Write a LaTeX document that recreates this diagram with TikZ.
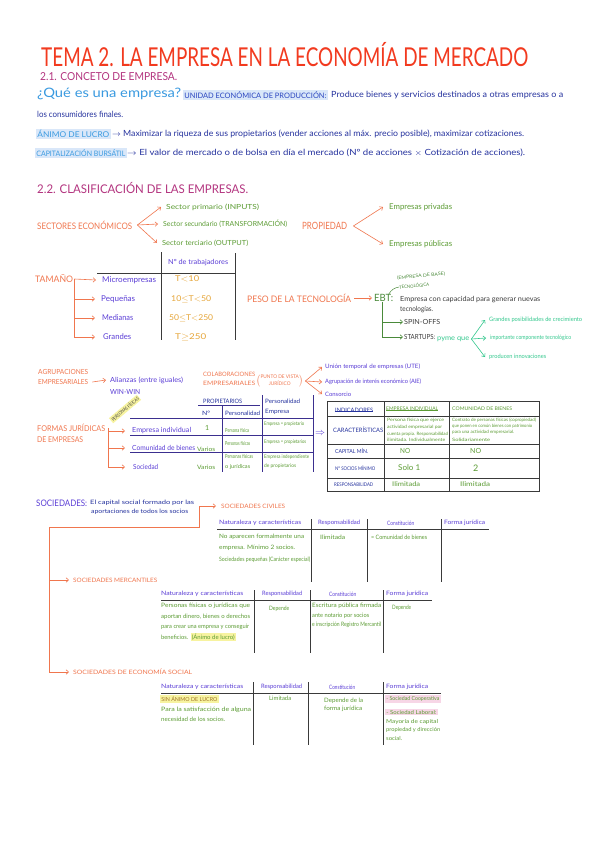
\documentclass[tikz,border=0pt]{standalone}
\usepackage{fontspec}
\setsansfont{Lato}
\usepackage{graphicx}
\usetikzlibrary{positioning,arrows.meta}
\definecolor{ntRed}{HTML}{F23A1F}
\definecolor{ntMagenta}{HTML}{B3347F}
\definecolor{ntCyan}{HTML}{3A9AE0}
\definecolor{ntBlue}{HTML}{2A45C0}
\definecolor{ntBlueL}{HTML}{D9E7F9}
\definecolor{ntNavy}{HTML}{25329E}
\definecolor{ntOrange}{HTML}{F0764E}
\definecolor{ntGreen}{HTML}{5C9C34}
\definecolor{ntViolet}{HTML}{5B3ED6}
\definecolor{ntAmber}{HTML}{E6A63A}
\definecolor{ntTeal}{HTML}{34C88E}
\definecolor{ntInk}{HTML}{3C3C3C}
\definecolor{ntEbt}{HTML}{4A8A3A}
\definecolor{ntRule}{HTML}{3A3A3A}
\definecolor{ntRuleV}{HTML}{3B2F8F}
\definecolor{ntYellowL}{HTML}{F7F3A0}
\definecolor{ntPinkL}{HTML}{F7D6E6}
\newcommand{\ntfit}[2]{\resizebox{#1pt}{\height}{#2}}
\tikzset{
  nt-txt/.style={anchor=west, inner sep=0pt, font=\sffamily\fontsize{7}{8}\selectfont},
  nt-fs/.style={font=\sffamily\fontsize{#1}{#1}\selectfont},
  nt-orange/.style={nt-txt, text=ntOrange},
  nt-green/.style={nt-txt, text=ntGreen},
  nt-violet/.style={nt-txt, text=ntViolet},
  nt-navy/.style={nt-txt, text=ntNavy},
  nt-ink/.style={nt-txt, text=ntInk},
  nt-teal/.style={nt-txt, text=ntTeal},
  nt-amber/.style={nt-txt, text=ntAmber},
  nt-hl/.style={fill=#1, inner sep=1.2pt},
  nt-flow/.style={-{Straight Barb[length=2.5pt,width=4.5pt]}, line width=0.6pt, draw=ntOrange},
  nt-line/.style={line width=0.6pt, draw=ntOrange},
  nt-rule/.style={line width=0.8pt, draw=ntRule}
}
\begin{document}
\begin{tikzpicture}[x=1pt, y=-1pt]
\fill[white] (0,0) rectangle (600,848);
\useasboundingbox (0,0) rectangle (600,848);

% titulo y 2.1
\node[nt-txt, text=ntRed, nt-fs=26] (title) at (41,55)
  {\ntfit{487}{TEMA 2. LA EMPRESA EN LA ECONOMÍA DE MERCADO}};
\node[nt-txt, text=ntMagenta, nt-fs=11] (s21) at (40,77)
  {\ntfit{137}{2.1. CONCETO DE EMPRESA.}};
\node[nt-txt, text=ntCyan, nt-fs=13] (quees) at (37,94)
  {\ntfit{144}{¿Qué es una empresa?}};
\node[nt-txt, text=ntBlue, nt-hl=ntBlueL, nt-fs=7.5] (ueco) at (183,95)
  {\ntfit{142}{UNIDAD ECONÓMICA DE PRODUCCIÓN:}};
\node[nt-navy, nt-fs=8.5] (def1) at (331,95)
  {\ntfit{232}{Produce bienes y servicios destinados a otras empresas o a}};
\node[nt-navy, nt-fs=8.5] (def2) at (37,114)
  {\ntfit{86}{los consumidores finales.}};
\node[nt-txt, text=ntCyan, nt-hl=ntBlueL, nt-fs=8] (lucro) at (36,134)
  {\ntfit{72}{ÁNIMO DE LUCRO}};
\node[nt-navy, nt-fs=8.5] (lucrot) at (112,134)
  {\ntfit{412}{$\rightarrow$ Maximizar la riqueza de sus propietarios (vender acciones al máx. precio posible), maximizar cotizaciones.}};
\node[nt-txt, text=ntCyan, nt-hl=ntBlueL, nt-fs=7.5] (capb) at (35,153)
  {\ntfit{89}{CAPITALIZACIÓN BURSÁTIL}};
\node[nt-navy, nt-fs=8.5] (capbt) at (127,153)
  {\ntfit{398}{$\rightarrow$ El valor de mercado o de bolsa en día el mercado (Nº de acciones $\times$ Cotización de acciones).}};

% 2.2 clasificacion
\node[nt-txt, text=ntMagenta, nt-fs=12] (s22) at (37,188)
  {\ntfit{211}{2.2. CLASIFICACIÓN DE LAS EMPRESAS.}};

\node[nt-orange, nt-fs=9] (sect) at (37,225) {\ntfit{95}{SECTORES ECONÓMICOS}};
\node[nt-green, nt-fs=7] (sprim) at (166,207) {\ntfit{93}{Sector primario (INPUTS)}};
\node[nt-green, nt-fs=7] (ssec) at (163,224) {\ntfit{124}{Sector secundario (TRANSFORMACIÓN)}};
\node[nt-green, nt-fs=7] (ster) at (162,243) {\ntfit{86}{Sector terciario (OUTPUT)}};
\coordinate (sectfork) at ([xshift=5pt]sect.east);
\draw[nt-flow] (sectfork) -- ([xshift=-5pt]sprim.west);
\draw[nt-flow] (sectfork) -- ([xshift=-5pt]ssec.west);
\draw[nt-flow] (sectfork) -- ([xshift=-5pt]ster.west);

\node[nt-orange, nt-fs=10] (prop) at (302,226) {\ntfit{45}{PROPIEDAD}};
\node[nt-green, nt-fs=8] (epriv) at (389,207) {\ntfit{63}{Empresas privadas}};
\node[nt-green, nt-fs=8] (epub) at (389,244) {\ntfit{63}{Empresas públicas}};
\draw[nt-flow] ([xshift=6pt]prop.east) -- ([xshift=-6pt]epriv.west);
\draw[nt-flow] ([xshift=6pt]prop.east) -- ([xshift=-6pt]epub.west);

% tamano
\draw[nt-rule] (161,252) -- (161,340);
\draw[nt-rule] (235,253) -- (235,340);
\draw[nt-rule] (97,273) -- (235,273);
\node[nt-violet, nt-fs=7] (ntrab) at (168,263) {\ntfit{60}{Nº de trabajadores}};
\node[nt-orange, nt-fs=9] (tam) at (35,279) {\ntfit{38}{TAMAÑO}};
\node[nt-violet, nt-fs=8] (micro) at (102,280) {\ntfit{54}{Microempresas}};
\node[nt-violet, nt-fs=8] (peq) at (101,299) {\ntfit{34}{Pequeñas}};
\node[nt-violet, nt-fs=8] (med) at (102,318) {\ntfit{31}{Medianas}};
\node[nt-violet, nt-fs=8] (gra) at (103,337) {\ntfit{28}{Grandes}};
\node[nt-amber, nt-fs=8] (v1) at (175,279) {\ntfit{24}{T$<$10}};
\node[nt-amber, nt-fs=8] (v2) at (171,299) {\ntfit{40}{10$\leq$T$<$50}};
\node[nt-amber, nt-fs=8] (v3) at (169,318) {\ntfit{44}{50$\leq$T$<$250}};
\node[nt-amber, nt-fs=8] (v4) at (175,337) {\ntfit{31}{T$\geq$250}};
\coordinate (tamfork) at ([xshift=1pt]tam.east);
\draw[nt-flow] (tamfork) -- ([xshift=-6pt]micro.west);
\draw[nt-flow] (tamfork) |- ([xshift=-6pt]peq.west);
\draw[nt-flow] (tamfork) |- ([xshift=-7pt]med.west);
\draw[nt-flow] (tamfork) |- ([xshift=-8pt]gra.west);

% peso de la tecnologia
\node[nt-orange, nt-fs=9] (peso) at (247,298) {\ntfit{104}{PESO DE LA TECNOLOGÍA}};
\node[nt-txt, text=ntEbt, nt-fs=10] (ebt) at (374,298) {\ntfit{19}{EBT:}};
\draw[nt-flow] ([xshift=3pt]peso.east) -- ([xshift=-2pt]ebt.west);
\node[nt-txt, text=ntEbt, nt-fs=4.5, rotate=5] (ebtn1) at (397,278)
  {\ntfit{48}{(EMPRESA DE BASE)}};
\node[nt-txt, text=ntEbt, nt-fs=4.5, rotate=5] (ebtn2) at (399,287)
  {\ntfit{30}{TECNOLÓGICA}};
\draw[ntEbt, line width=0.5pt] ([xshift=5pt]ebt.north) to[bend left=25] (ebtn2.west);
\node[nt-ink, nt-fs=7] (ebtd1) at (400,300) {\ntfit{140}{Empresa con capacidad para generar nuevas}};
\node[nt-ink, nt-fs=7] (ebtd2) at (400,310) {\ntfit{33}{tecnologías.}};
\node[nt-ink, nt-fs=7] (spin) at (404,322) {\ntfit{36}{SPIN-OFFS}};
\node[nt-ink, nt-fs=7] (start) at (404,337) {\ntfit{31}{STARTUPS:}};
\node[nt-teal, nt-fs=7] (pyme) at (437,339) {\ntfit{32}{pyme que}};
\draw[nt-flow, draw=ntEbt] ([xshift=-1pt]ebt.south) |- ([xshift=-1pt]spin.west);
\draw[nt-flow, draw=ntEbt] ([xshift=-1pt]ebt.south) |- ([xshift=-1pt]start.west);
\node[nt-teal, nt-fs=6] (st1) at (489,320) {\ntfit{93}{Grandes posibilidades de crecimiento}};
\node[nt-teal, nt-fs=6] (st2) at (490,338) {\ntfit{81}{importante componente tecnológico}};
\node[nt-teal, nt-fs=6] (st3) at (489,357) {\ntfit{57}{producen innovaciones}};
\coordinate (pymefork) at ([xshift=2pt]pyme.east);
\draw[nt-flow, draw=ntTeal] (pymefork) -- ([xshift=-4pt]st1.west);
\draw[nt-flow, draw=ntTeal] (pymefork) -- ([xshift=-4pt]st2.west);
\draw[nt-flow, draw=ntTeal] (pymefork) -- ([xshift=-4pt]st3.west);

% agrupaciones y colaboraciones
\node[nt-orange, nt-fs=7] (agr1) at (38,372) {\ntfit{50}{AGRUPACIONES}};
\node[nt-orange, nt-fs=7] (agr2) at (38,382) {\ntfit{50}{EMPRESARIALES}};
\node[nt-violet, nt-fs=7] (ali) at (110,380) {\ntfit{73}{Alianzas (entre iguales)}};
\node[nt-violet, nt-fs=7] (win) at (110,392) {\ntfit{30}{WIN-WIN}};
\draw[nt-flow] ([xshift=4pt]agr2.east) -- ([xshift=-4pt]ali.west);

\node[nt-orange, nt-fs=6] (col1) at (203,374) {\ntfit{52}{COLABORACIONES}};
\node[nt-orange, nt-fs=6] (col2) at (203,383) {\ntfit{52}{EMPRESARIALES}};
\node[nt-orange, nt-fs=5] (pvj) at (256,381)
  {\ntfit{47}{$\left(\vcenter{\hbox{\begin{tabular}{@{}c@{}}PUNTO DE VISTA\\JURÍDICO\end{tabular}}}\right)$}};
\node[nt-violet, nt-fs=6] (ute) at (325,367) {\ntfit{95}{Unión temporal de empresas (UTE)}};
\node[nt-violet, nt-fs=6] (aie) at (325,382) {\ntfit{96}{Agrupación de interés económico (AIE)}};
\node[nt-violet, nt-fs=6] (cons) at (325,394) {\ntfit{26}{Consorcio}};
\coordinate (colfork) at ([xshift=2pt]pvj.east);
\draw[nt-flow] (colfork) -- ([xshift=-3pt]ute.west);
\draw[nt-flow] (colfork) -- ([xshift=-3pt]aie.west);
\draw[nt-flow] (colfork) -- ([xshift=-3pt]cons.west);

% formas juridicas
\node[nt-orange, nt-fs=8] (fj1) at (37,428) {\ntfit{68}{FORMAS JURÍDICAS}};
\node[nt-orange, nt-fs=8] (fj2) at (37,440) {\ntfit{46}{DE EMPRESAS}};
\node[nt-ink, nt-fs=4.5, nt-hl=ntYellowL, anchor=center, rotate=40] (pfis) at (125,409)
  {\ntfit{34}{PERSONAS FÍSICAS}};
\node[nt-violet, nt-fs=7] (ei) at (132,431) {\ntfit{59}{Empresa individual}};
\node[nt-violet, nt-fs=7] (cb) at (132,448) {\ntfit{63}{Comunidad de bienes}};
\node[nt-violet, nt-fs=7] (soc) at (133,467) {\ntfit{25}{Sociedad}};
\coordinate (fjfork) at ([xshift=3pt]fj1.east);
\draw[nt-flow] (fjfork) |- ([xshift=-7pt]ei.west);
\draw[nt-flow] (fjfork) |- ([xshift=-7pt]cb.west);
\draw[nt-flow] (fjfork) |- ([xshift=-8pt]soc.west);

\draw[nt-rule, draw=ntRuleV] (198,405) -- (260,405);
\draw[nt-rule, draw=ntRuleV] (130,418) -- (313,418);
\draw[nt-rule, draw=ntRuleV] (130,435) -- (313,435);
\draw[nt-rule, draw=ntRuleV] (130,452) -- (313,452);
\draw[nt-rule, draw=ntRuleV] (222,406) -- (222,472);
\draw[nt-rule, draw=ntRuleV] (262,395) -- (262,472);
\draw[nt-rule, draw=ntRuleV] (313,395) -- (313,472);
\node[nt-navy, nt-fs=6] (fprop) at (203,401) {\ntfit{39}{PROPIETARIOS}};
\node[nt-navy, nt-fs=6] (fnum) at (202,413) {\ntfit{8}{Nº}};
\node[nt-navy, nt-fs=6] (fpers) at (225,413) {\ntfit{35}{Personalidad}};
\node[nt-navy, nt-fs=6] (fpe1) at (265,401) {\ntfit{35}{Personalidad}};
\node[nt-navy, nt-fs=6] (fpe2) at (265,412) {\ntfit{24}{Empresa}};
\node[nt-green, nt-fs=7] (r1a) at (205,428) {1};
\node[nt-green, nt-fs=5.5] (r1b) at (225,431) {\ntfit{24}{Persona física}};
\node[nt-green, nt-fs=5] (r1c) at (264,424) {\ntfit{40}{Empresa = propietario}};
\node[nt-green, nt-fs=6] (r2a) at (197,449) {\ntfit{18}{Varios}};
\node[nt-green, nt-fs=5.5] (r2b) at (225,444) {\ntfit{25}{Personas físicas}};
\node[nt-green, nt-fs=5] (r2c) at (264,442) {\ntfit{42}{Empresa = propietarios}};
\node[nt-green, nt-fs=6] (r3a) at (197,467) {\ntfit{18}{Varios}};
\node[nt-green, nt-fs=5.5] (r3b) at (225,457) {\ntfit{28}{Personas físicas}};
\node[nt-green, nt-fs=5.5] (r3b2) at (225,467) {\ntfit{25}{o jurídicas}};
\node[nt-green, nt-fs=5] (r3c) at (264,457) {\ntfit{45}{Empresa independiente}};
\node[nt-green, nt-fs=5] (r3c2) at (264,466) {\ntfit{32}{de propietarios}};
\node[nt-violet, nt-fs=10] (impl) at (315,434) {$\Rightarrow$};

% indicadores
\draw[nt-rule] (327,401) rectangle (539,491);
\draw[nt-rule] (327,416) -- (539,416);
\draw[nt-rule] (327,444) -- (539,444);
\draw[nt-rule] (327,458) -- (539,458);
\draw[nt-rule] (327,478) -- (539,478);
\draw[nt-rule] (384,401) -- (384,491);
\draw[nt-rule] (449,401) -- (449,491);
\node[nt-navy, nt-fs=6] (ind) at (335,410) {\ntfit{38}{INDICADORES}};
\node[nt-green, nt-fs=5] (indEI) at (386,409) {\ntfit{52}{EMPRESA INDIVIDUAL}};
\node[nt-green, nt-fs=5] (indCB) at (452,409) {\ntfit{60}{COMUNIDAD DE BIENES}};
\draw[ntNavy, line width=0.4pt] ([yshift=1pt]ind.south west) -- ([yshift=1pt]ind.south east);
\draw[ntGreen, line width=0.4pt] ([yshift=1pt]indEI.south west) -- ([yshift=1pt]indEI.south east);
\node[nt-navy, nt-fs=6] (car) at (333,430) {\ntfit{50}{CARACTERÍSTICAS}};
\node[nt-green, nt-fs=4.5] (ce1) at (387,420) {\ntfit{57}{Persona física que ejerce}};
\node[nt-green, nt-fs=4.5] (ce2) at (387,427) {\ntfit{55}{actividad empresarial por}};
\node[nt-green, nt-fs=4.5] (ce3) at (387,434) {\ntfit{61}{cuenta propia. Responsabilidad}};
\node[nt-green, nt-fs=4.5] (ce4) at (387,440) {\ntfit{58}{ilimitada. Individualmente}};
\node[nt-green, nt-fs=4.5] (cc1) at (452,420) {\ntfit{84}{Contrato de personas físicas (copropiedad)}};
\node[nt-green, nt-fs=4.5] (cc2) at (452,426) {\ntfit{80}{que ponen en común bienes con patrimonio}};
\node[nt-green, nt-fs=4.5] (cc3) at (452,432) {\ntfit{62}{para una actividad empresarial.}};
\node[nt-green, nt-fs=4.5] (cc4) at (452,440) {\ntfit{38}{Solidariamente}};
\node[nt-navy, nt-fs=5.5] (capm) at (335,451) {\ntfit{33}{CAPITAL MÍN.}};
\node[nt-green, nt-fs=7] (capEI) at (400,451) {\ntfit{10}{NO}};
\node[nt-green, nt-fs=7] (capCB) at (470,451) {\ntfit{11}{NO}};
\node[nt-navy, nt-fs=5] (nsoc) at (335,468) {\ntfit{40}{Nº SOCIOS MÍNIMO}};
\node[nt-green, nt-fs=8] (nsEI) at (398,468) {\ntfit{22}{Solo 1}};
\node[nt-green, nt-fs=9] (nsCB) at (473,468) {2};
\node[nt-navy, nt-fs=5] (resp) at (334,485) {\ntfit{39}{RESPONSABILIDAD}};
\node[nt-green, nt-fs=6.5] (rsEI) at (392,484) {\ntfit{28}{Ilimitada}};
\node[nt-green, nt-fs=6.5] (rsCB) at (460,484) {\ntfit{30}{Ilimitada}};

% sociedades
\node[nt-violet, nt-fs=9] (socs) at (36,503) {\ntfit{51}{SOCIEDADES:}};
\node[nt-navy, nt-fs=6] (socs1) at (90,503) {\ntfit{104}{El capital social formado por las}};
\node[nt-navy, nt-fs=6] (socs2) at (91,512) {\ntfit{97}{aportaciones de todos los socios}};
\node[nt-orange, nt-fs=6] (civ) at (221,506) {\ntfit{64}{SOCIEDADES CIVILES}};
\node[nt-orange, nt-fs=6] (merc) at (73,580) {\ntfit{84}{SOCIEDADES MERCANTILES}};
\node[nt-orange, nt-fs=6] (ecos) at (73,672) {\ntfit{119}{SOCIEDADES DE ECONOMÍA SOCIAL}};
\coordinate (socroot) at (49,527);
\draw[nt-flow] (socroot) -| ([xshift=-22pt]civ.west) -- ([xshift=-5pt]civ.west);
\draw[nt-flow] (socroot) |- ([xshift=-4pt]merc.west);
\draw[nt-flow] (socroot) |- ([xshift=-4pt]ecos.west);

% sociedades civiles
\draw[nt-rule] (217,529) -- (489,529);
\draw[nt-rule] (311,519) -- (311,582);
\draw[nt-rule] (367,519) -- (367,582);
\draw[nt-rule] (441,519) -- (441,582);
\node[nt-violet, nt-fs=6] (cvh1) at (219,523) {\ntfit{82}{Naturaleza y características}};
\node[nt-violet, nt-fs=6] (cvh2) at (318,523) {\ntfit{42}{Responsabilidad}};
\node[nt-violet, nt-fs=6] (cvh3) at (387,523) {\ntfit{27}{Constitución}};
\node[nt-violet, nt-fs=6] (cvh4) at (444,523) {\ntfit{41}{Forma jurídica}};
\node[nt-green, nt-fs=6] (cv1) at (219,537) {\ntfit{85}{No aparecen formalmente una}};
\node[nt-green, nt-fs=6] (cv2) at (219,548) {\ntfit{76}{empresa. Mínimo 2 socios.}};
\node[nt-green, nt-fs=6] (cv3) at (219,560) {\ntfit{91}{Sociedades pequeñas (Carácter especial)}};
\node[nt-green, nt-fs=6] (cvr) at (320,537) {\ntfit{25}{Ilimitada}};
\node[nt-green, nt-fs=6] (cvc) at (371,537) {\ntfit{56}{= Comunidad de bienes}};

% sociedades mercantiles
\draw[nt-rule] (161,600) -- (432,600);
\draw[nt-rule] (254,590) -- (254,653);
\draw[nt-rule] (310,590) -- (310,653);
\draw[nt-rule] (383,590) -- (383,653);
\node[nt-violet, nt-fs=6] (mh1) at (161,594) {\ntfit{82}{Naturaleza y características}};
\node[nt-violet, nt-fs=6] (mh2) at (262,594) {\ntfit{40}{Responsabilidad}};
\node[nt-violet, nt-fs=6] (mh3) at (329,594) {\ntfit{27}{Constitución}};
\node[nt-violet, nt-fs=6] (mh4) at (386,594) {\ntfit{42}{Forma jurídica}};
\node[nt-green, nt-fs=6] (m1) at (161,606) {\ntfit{89}{Personas físicas o jurídicas que}};
\node[nt-green, nt-fs=6] (m2) at (161,617) {\ntfit{89}{aportan dinero, bienes o derechos}};
\node[nt-green, nt-fs=6] (m3) at (161,627) {\ntfit{88}{para crear una empresa y conseguir}};
\node[nt-green, nt-fs=6] (m4) at (161,637) {\ntfit{27}{beneficios.}};
\node[nt-green, nt-fs=6, nt-hl=ntYellowL, right=2pt of m4] (m4hl) {\ntfit{43}{(Ánimo de lucro)}};
\node[nt-green, nt-fs=6] (mr) at (269,609) {\ntfit{20}{Depende}};
\node[nt-green, nt-fs=6] (mc1) at (312,606) {\ntfit{69}{Escritura pública firmada}};
\node[nt-green, nt-fs=6] (mc2) at (312,616) {\ntfit{57}{ante notario por socios}};
\node[nt-green, nt-fs=6] (mc3) at (312,625) {\ntfit{69}{e inscripción Registro Mercantil}};
\node[nt-green, nt-fs=6] (mf) at (392,608) {\ntfit{19}{Depende}};

% sociedades de economia social
\draw[nt-rule] (161,693) -- (441,693);
\draw[nt-rule] (253,682) -- (253,745);
\draw[nt-rule] (308,682) -- (308,745);
\draw[nt-rule] (383,682) -- (383,745);
\node[nt-violet, nt-fs=6] (eh1) at (161,687) {\ntfit{82}{Naturaleza y características}};
\node[nt-violet, nt-fs=6] (eh2) at (261,687) {\ntfit{41}{Responsabilidad}};
\node[nt-violet, nt-fs=6] (eh3) at (329,687) {\ntfit{26}{Constitución}};
\node[nt-violet, nt-fs=6] (eh4) at (386,687) {\ntfit{42}{Forma jurídica}};
\node[nt-txt, text=ntAmber!70!black, nt-fs=5.5, nt-hl=ntYellowL] (e0) at (160,699)
  {\ntfit{56}{SIN ÁNIMO DE LUCRO}};
\node[nt-green, nt-fs=6] (e1) at (161,710) {\ntfit{90}{Para la satisfacción de alguna}};
\node[nt-green, nt-fs=6] (e2) at (161,719) {\ntfit{64}{necesidad de los socios.}};
\node[nt-green, nt-fs=6] (er) at (269,698) {\ntfit{22}{Limitada}};
\node[nt-green, nt-fs=6] (ec1) at (324,701) {\ntfit{39}{Depende de la}};
\node[nt-green, nt-fs=6] (ec2) at (324,709) {\ntfit{38}{forma jurídica}};
\node[nt-green, nt-fs=5.5, nt-hl=ntPinkL] (ef1) at (385,699) {\ntfit{53}{- Sociedad Cooperativa}};
\node[nt-green, nt-fs=5.5, nt-hl=ntPinkL] (ef2) at (385,712) {\ntfit{50}{- Sociedad Laboral:}};
\node[nt-green, nt-fs=5.5] (ef3) at (386,722) {\ntfit{52}{Mayoría de capital}};
\node[nt-green, nt-fs=5.5] (ef4) at (386,730) {\ntfit{54}{propiedad y dirección}};
\node[nt-green, nt-fs=5.5] (ef5) at (386,738) {\ntfit{16}{social.}};
\end{tikzpicture}
\end{document}
